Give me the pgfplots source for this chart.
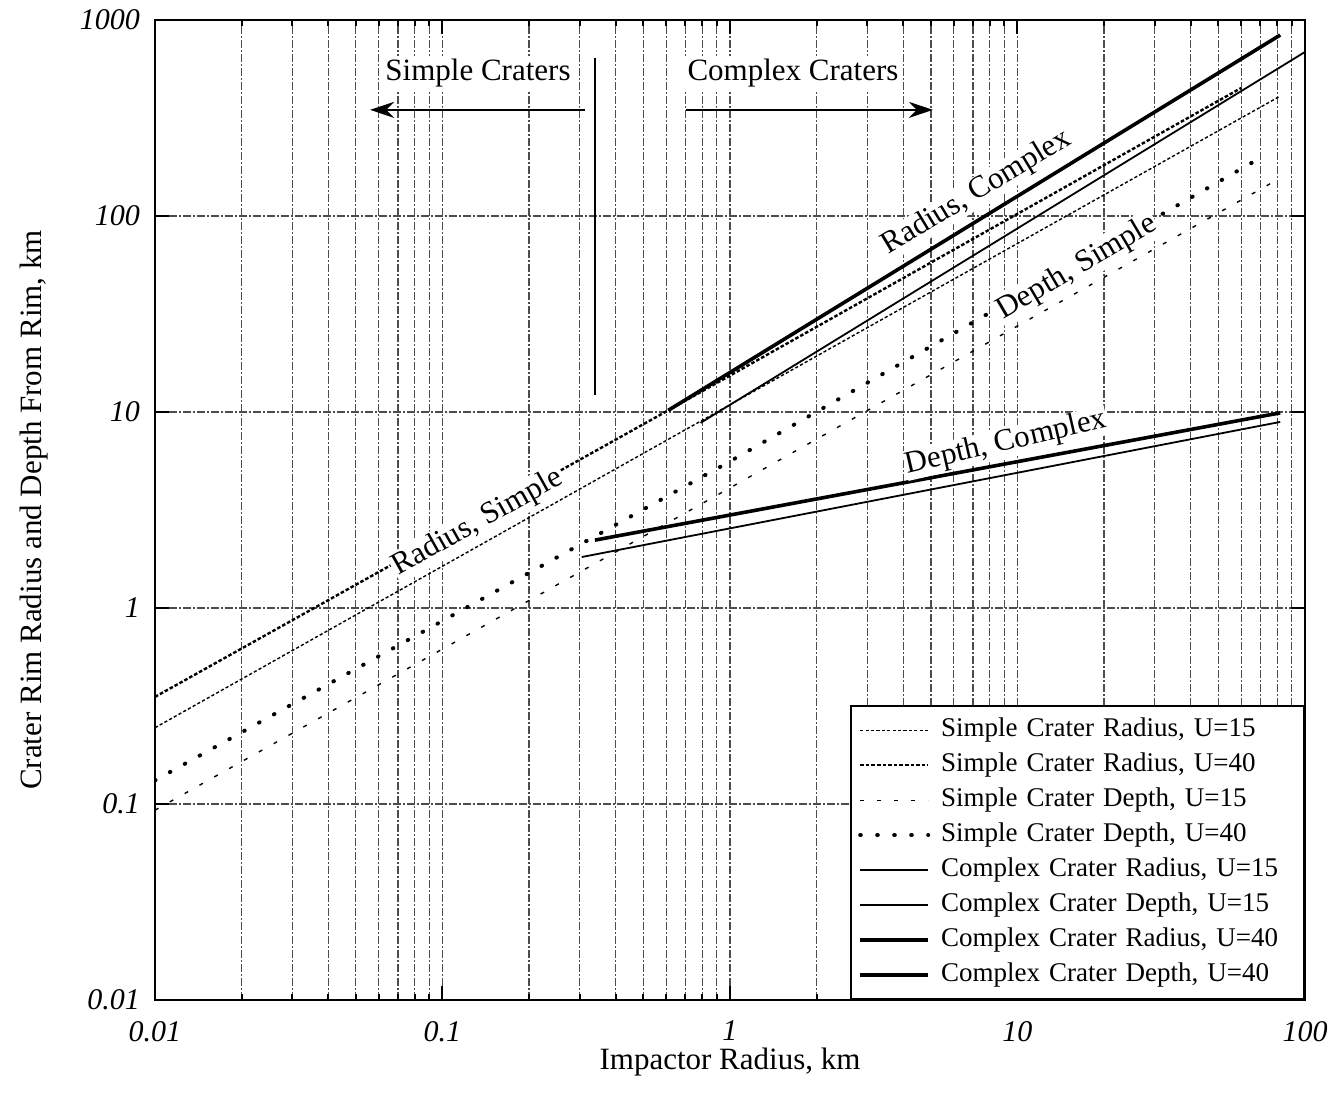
\documentclass[border=0pt]{standalone}
\usepackage{pgfplots}
\pgfplotsset{compat=1.18}
\usepackage{fontspec}
\setmainfont{Liberation Serif}
\usetikzlibrary{arrows.meta}

\begin{document}
\begin{tikzpicture}[x=1pt,y=1pt]
\path[use as bounding box] (-77.5,-54.5) rectangle (587,500);
\begin{axis}[
  at={(0,0)}, anchor=south west,
  scale only axis, width=575pt, height=490pt,
  xmode=log, ymode=log,
  xmin=0.01, xmax=100, ymin=0.01, ymax=1000,
  xtick={0.01,0.1,1,10,100}, xticklabels={0.01,0.1,1,10,100},
  ytick={0.01,0.1,1,10,100,1000}, yticklabels={0.01,0.1,1,10,100,1000},
  ticklabel style={font=\fontsize{15}{18}\selectfont\itshape},
  xticklabel style={yshift=-7pt},
  yticklabel style={xshift=-4pt},
  xmajorgrids, xminorgrids, ymajorgrids,
  yminorticks=false,
  grid style={black!70, line width=0.55pt, dash pattern=on 4pt off 1pt on 1pt off 1pt},
  major tick length=7pt, minor tick length=3pt,
  tick style={black, line width=1pt},
  axis line style={line width=1.2pt},
  xlabel={Impactor Radius, km},
  ylabel={Crater Rim Radius and Depth From Rim, km},
  label style={font=\fontsize{15.5}{18}\selectfont},
  xlabel style={at={(axis description cs:0.5,0)}, anchor=center, yshift=-31pt},
  ylabel style={at={([xshift=-60.5pt]axis description cs:0,0.5)}, anchor=center},
  legend image code/.code={\draw[#1] (0pt,0pt) -- (34pt,0pt); \path[draw=none,fill=none] (40.5pt,0pt) circle (0pt);},
  legend cell align=left,
  legend style={at={(1,0)}, anchor=south east, draw=black, line width=0.8pt,
    inner xsep=3.5pt, inner ysep=5.75pt, row sep=5pt,
    font=\fontsize{13.5}{16}\selectfont,
    nodes={text width=178pt, align=left, inner sep=0pt, text height=9.5pt, text depth=3pt}},
]
% Simple crater radius
\addplot[black, line width=0.7pt, dash pattern=on 1.6pt off 1.1pt] coordinates {(0.01,0.245) (1,10.9) (81,405)};
\addlegendentry{Simple Crater Radius, U=15}
\addplot[black, line width=1.2pt, dash pattern=on 1.8pt off 1.0pt] coordinates {(0.01,0.352) (0.61,10.2) (60,450)};
\addlegendentry{Simple Crater Radius, U=40}
% Simple crater depth
\addplot[black, line width=0.7pt, dash pattern=on 2pt off 6.5pt] coordinates {(0.01,0.093) (1,4.1) (77.5,149)};
\addlegendentry{Simple Crater Depth, U=15}
\addplot[black, line width=2pt, line cap=round, dash pattern=on 0.3pt off 8.2pt] coordinates {(0.01,0.132) (1,5.6) (70.8,200)};
\addlegendentry{Simple Crater Depth, U=40}
% Complex
\addplot[black, line width=0.9pt] coordinates {(0.79,8.8) (100,687)};
\addlegendentry{Complex Crater Radius, U=15}
\addplot[black, line width=0.9pt] coordinates {(0.305,1.82) (82,8.9)};
\addlegendentry{Complex Crater Depth, U=15}
\addplot[black, line width=1.8pt] coordinates {(0.61,10.2) (82,838)};
\addlegendentry{Complex Crater Radius, U=40}
\addplot[black, line width=1.8pt] coordinates {(0.339,2.22) (82,9.9)};
\addlegendentry{Complex Crater Depth, U=40}

% annotations
\node[font=\fontsize{15.5}{18}\selectfont, fill=white, inner sep=1.5pt] at (axis cs:0.1329,537) {Simple Craters};
\node[font=\fontsize{15.5}{18}\selectfont, fill=white, inner sep=1.5pt] at (axis cs:1.656,537) {Complex Craters};
\draw[-{Stealth[length=12pt,width=8pt]}, line width=0.9pt] (axis cs:0.313,348) -- (axis cs:0.056,348);
\draw[-{Stealth[length=12pt,width=8pt]}, line width=0.9pt] (axis cs:0.703,348) -- (axis cs:5.08,348);
\draw[line width=1pt] (axis cs:0.339,640) -- (axis cs:0.339,12.2);
\node[font=\fontsize{15.5}{18}\selectfont, rotate=29.3, fill=white, inner sep=1pt] at (axis cs:0.1327,2.72) {Radius, Simple};
\node[font=\fontsize{15.5}{18}\selectfont, rotate=31.2, fill=white, inner sep=0.5pt] at (axis cs:7.23,132) {Radius, Complex};
\node[font=\fontsize{15.5}{18}\selectfont, rotate=30.5, fill=white, inner sep=1pt] at (axis cs:16.1,54.3) {Depth, Simple};
\node[font=\fontsize{15.5}{18}\selectfont, rotate=13, fill=white, inner sep=0.5pt] at (axis cs:9.12,6.95) {Depth, Complex};
\draw[line width=0.8pt] (rel axis cs:0.6087,0.148) -- (rel axis cs:1,0.148);
\end{axis}
\end{tikzpicture}
\end{document}
